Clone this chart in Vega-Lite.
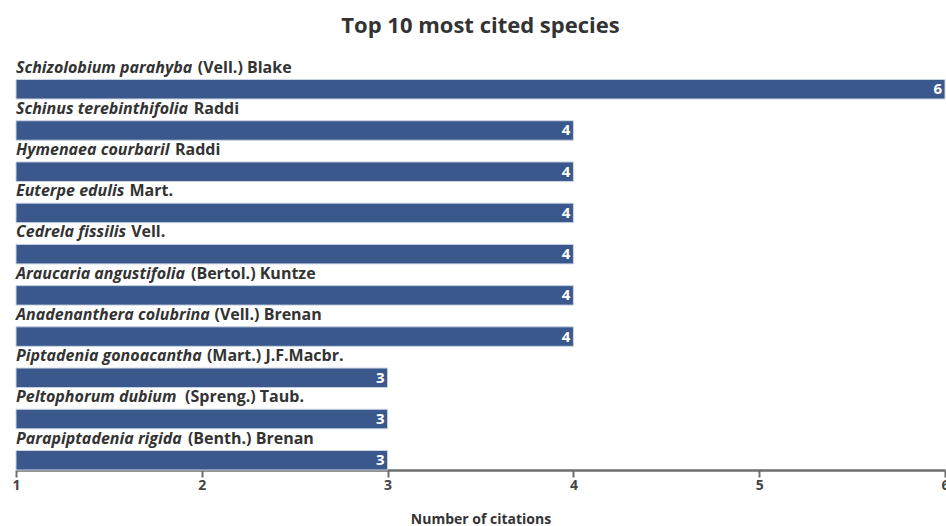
{
  "$schema": "https://vega.github.io/schema/vega-lite/v6.json",
  "width": 929,
  "height": 390.5,
  "autosize": "none",
  "padding": {"left": 16, "top": 79.5, "right": 1, "bottom": 56},
  "background": "white",
  "config": {"view": {"stroke": null}, "font": "Open Sans"},
  "title": {
    "text": "Top 10 most cited species",
    "font": "Open Sans",
    "fontSize": 22,
    "fontWeight": "bold",
    "color": "#333333",
    "anchor": "middle",
    "frame": "group",
    "baseline": "alphabetic",
    "offset": 5
  },
  "data": {
    "values": [
      {"species": "Schizolobium parahyba", "author": "(Vell.) Blake", "citations": 6},
      {"species": "Schinus terebinthifolia", "author": "Raddi", "citations": 4},
      {"species": "Hymenaea courbaril", "author": "Raddi", "citations": 4},
      {"species": "Euterpe edulis", "author": "Mart.", "citations": 4},
      {"species": "Cedrela fissilis", "author": "Vell.", "citations": 4},
      {"species": "Araucaria angustifolia", "author": "(Bertol.) Kuntze", "citations": 4},
      {"species": "Anadenanthera colubrina", "author": "(Vell.) Brenan", "citations": 4},
      {"species": "Piptadenia gonoacantha", "author": "(Mart.) J.F.Macbr.", "citations": 3},
      {"species": "Peltophorum dubium", "author": "(Spreng.) Taub.", "citations": 3},
      {"species": "Parapiptadenia rigida", "author": "(Benth.) Brenan", "citations": 3}
    ]
  },
  "encoding": {
    "y": {
      "field": "species",
      "type": "nominal",
      "sort": null,
      "axis": null,
      "scale": {"paddingInner": 0.527, "paddingOuter": 0}
    }
  },
  "layer": [
    {
      "mark": {"type": "bar", "color": "#3a588c", "stroke": "#c9d3e3", "strokeWidth": 1},
      "encoding": {
        "x": {
          "field": "citations",
          "type": "quantitative",
          "scale": {"domain": [1, 6], "zero": false, "nice": false},
          "axis": {
            "values": [1, 2, 3, 4, 5, 6],
            "format": "d",
            "title": "Number of citations",
            "grid": false,
            "domainColor": "#6e6e6e",
            "domainWidth": 2.5,
            "tickColor": "#6e6e6e",
            "tickWidth": 2,
            "tickSize": 7,
            "labelFont": "Open Sans",
            "labelFontSize": 14,
            "labelFontWeight": "bold",
            "labelColor": "#444444",
            "labelBaseline": "alphabetic",
            "labelPadding": 12,
            "labelFlush": false,
            "labelOverlap": false,
            "titleFont": "Open Sans",
            "titleFontSize": 14,
            "titleFontWeight": "bold",
            "titleColor": "#333333",
            "titleBaseline": "alphabetic",
            "titleY": 53
          }
        },
        "x2": {"datum": 1}
      }
    },
    {
      "mark": {"type": "text", "align": "right", "baseline": "middle", "dx": -3, "color": "white", "fontSize": 15, "fontWeight": "bold", "font": "Open Sans"},
      "encoding": {
        "x": {"field": "citations", "type": "quantitative"},
        "text": {"field": "citations", "type": "quantitative"}
      }
    },
    {
      "mark": {"type": "text", "align": "left", "baseline": "alphabetic", "dy": -7, "color": "#333333", "fontSize": 16, "fontWeight": "bold", "fontStyle": "italic", "font": "Open Sans"},
      "encoding": {
        "x": {"datum": 1},
        "y": {"field": "species", "type": "nominal", "sort": null, "bandPosition": 0},
        "text": {"field": "species"}
      }
    },
    {
      "mark": {
        "type": "text", "align": "left", "baseline": "alphabetic", "dy": -7, "color": "#333333", "fontSize": 16, "fontWeight": "bold", "font": "Open Sans",
        "dx": {"expr": "6.2 + 15.15 * (0.64 * length(replace(datum.species, regexp('[^bdghnopqu]', 'g'), '')) + 0.60 * length(replace(datum.species, regexp('[^a]', 'g'), '')) + 0.57 * length(replace(datum.species, regexp('[^e]', 'g'), '')) + 0.48 * length(replace(datum.species, regexp('[^cs]', 'g'), '')) + 0.40 * length(replace(datum.species, regexp('[^z]', 'g'), '')) + 0.54 * length(replace(datum.species, regexp('[^yvkx]', 'g'), '')) + 0.33 * length(replace(datum.species, regexp('[^ijl]', 'g'), '')) + 0.41 * length(replace(datum.species, regexp('[^ft]', 'g'), '')) + 0.45 * length(replace(datum.species, regexp('[^r]', 'g'), '')) + 1.0 * length(replace(datum.species, regexp('[^m]', 'g'), '')) + 0.26 * length(replace(datum.species, regexp('[^ ]', 'g'), '')) + 0.68 * length(replace(datum.species, regexp('[^A]', 'g'), '')) + 0.74 * length(replace(datum.species, regexp('[^H]', 'g'), '')) + 0.6 * length(replace(datum.species, regexp('[^C]', 'g'), '')) + 0.64 * length(replace(datum.species, regexp('[^P]', 'g'), '')) + 0.55 * length(replace(datum.species, regexp('[^ES]', 'g'), '')))"}
      },
      "encoding": {
        "x": {"datum": 1},
        "y": {"field": "species", "type": "nominal", "sort": null, "bandPosition": 0},
        "text": {"field": "author"}
      }
    }
  ]
}
